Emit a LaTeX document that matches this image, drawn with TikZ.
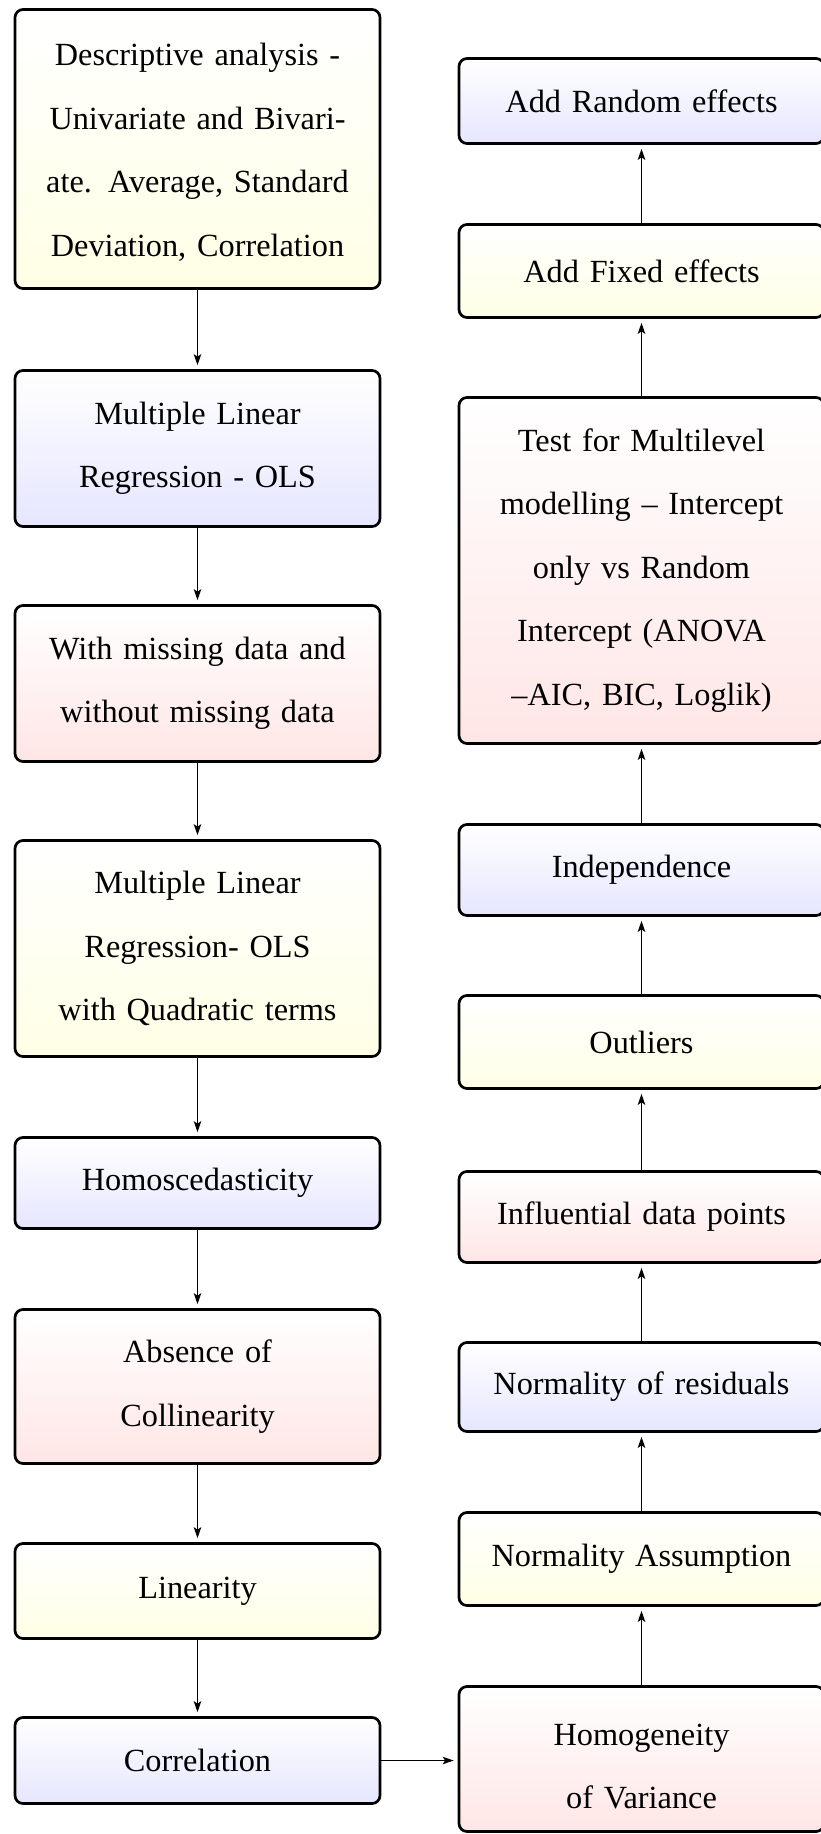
\documentclass[tikz,border=0pt]{standalone}
\usepackage{fontspec}
\setmainfont{Liberation Serif}
\usetikzlibrary{arrows.meta}

\tikzset{
  box/.style={draw=black, line width=2.7pt, rounded corners=8pt,
    minimum width=365pt, text width=320pt, align=center,
    font=\fontsize{32.3}{63.5}\selectfont, top color=white},
  bluebox/.style={box, bottom color=blue!10},
  yellowbox/.style={box, bottom color=yellow!10},
  redbox/.style={box, bottom color=red!10},
  flow/.style={line width=1.4pt, shorten >=4pt,
    -{Stealth[length=11pt, width=7.5pt, inset=2.5pt]}},
}

\begin{document}
\begin{tikzpicture}[x=1pt, y=-1pt]
\useasboundingbox (0,0) rectangle (820,1834);

% left column, read downwards
\node[yellowbox, minimum height=279pt] (L1) at (197.5,149)
  {\rule{0pt}{29pt}Descriptive analysis -\\ Univariate and Bivari-\\ ate. Average, Standard\\ Deviation, Correlation};
\node[bluebox, minimum height=156pt] (L2) at (197.5,448.5)
  {Multiple Linear\\ Regression - OLS};
\node[redbox, minimum height=156pt] (L3) at (197.5,683.5)
  {With missing data and\\ without missing data};
\node[yellowbox, minimum height=216pt] (L4) at (197.5,948.5)
  {Multiple Linear\\ Regression- OLS\\ with Quadratic terms};
\node[bluebox, minimum height=91pt] (L5) at (197.5,1183)
  {Homoscedasticity};
\node[redbox, minimum height=154pt] (L6) at (197.5,1386.5)
  {Absence of\\ Collinearity};
\node[yellowbox, minimum height=95pt] (L7) at (197.5,1591)
  {Linearity};
\node[bluebox, minimum height=86pt] (L8) at (197.5,1760.5)
  {Correlation};

% right column, read upwards
\node[bluebox, minimum height=85pt] (R1) at (641.5,101)
  {Add Random effects};
\node[yellowbox, minimum height=93pt] (R2) at (641.5,271)
  {Add Fixed effects};
\node[redbox, minimum height=346pt] (R3) at (641.5,570.5)
  {Test for Multilevel\\ modelling -- Intercept\\ only vs Random\\ Intercept (ANOVA\\ --AIC, BIC, Loglik)};
\node[bluebox, minimum height=91pt] (R4) at (641.5,870)
  {Independence};
\node[yellowbox, minimum height=93pt] (R5) at (641.5,1042)
  {Outliers};
\node[redbox, minimum height=91pt] (R6) at (641.5,1217)
  {Influential data points};
\node[bluebox, minimum height=89pt] (R7) at (641.5,1387)
  {Normality of residuals};
\node[yellowbox, minimum height=93pt] (R8) at (641.5,1559)
  {Normality Assumption};
\node[redbox, minimum height=145pt] (R9) at (641.5,1759)
  {\rule{0pt}{36pt}Homogeneity\\ of Variance};

% connectors
\foreach \a/\b in {L1/L2, L2/L3, L3/L4, L4/L5, L5/L6, L6/L7, L7/L8,
                   R9/R8, R8/R7, R7/R6, R6/R5, R5/R4, R4/R3, R3/R2, R2/R1}
  \draw[flow] (\a) -- (\b);
\draw[flow] (L8.east) -- (L8.east -| R9.west);

\end{tikzpicture}
\end{document}
